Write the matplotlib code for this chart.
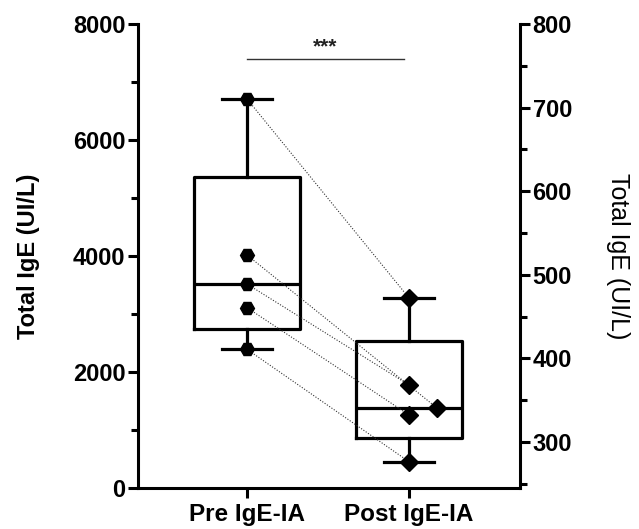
import matplotlib
matplotlib.use("Agg")
import matplotlib.pyplot as plt
import numpy as np
from matplotlib.ticker import MultipleLocator

plt.rcParams['font.family'] = ['Liberation Sans', 'DejaVu Sans']

categories = ["Pre IgE-IA", "Post IgE-IA"]
pre_values = [6707, 4017, 3517, 3109, 2391]
post_values = [3276, 1374, 1776, 1259, 453]
post_offsets = [0.0, 0.175, 0.0, 0.0, 0.0]
left_ticks = [0, 2000, 4000, 6000, 8000]
right_ticks = [300, 400, 500, 600, 700, 800]
sig_label = "***"


def box_stats(vals, label):
    v = np.sort(np.array(vals, dtype=float))
    n = len(v)
    med = np.median(v)
    lower = v[: n // 2]
    upper = v[(n + 1) // 2:]
    return dict(med=med, q1=np.median(lower), q3=np.median(upper),
                whislo=v.min(), whishi=v.max(), fliers=[], label=label)


fig = plt.figure(figsize=(6.39, 5.29), dpi=100)
ax = fig.add_axes([138 / 639, 1 - 488 / 529, (520 - 138) / 639, (488 - 24) / 529])

stats = [box_stats(pre_values, categories[0]), box_stats(post_values, categories[1])]
lw = 2.3
ax.bxp(stats, positions=[0, 1], widths=0.655, showfliers=False,
       boxprops=dict(color='black', linewidth=lw),
       whiskerprops=dict(color='black', linewidth=lw),
       capprops=dict(color='black', linewidth=lw),
       medianprops=dict(color='black', linewidth=lw),
       capwidths=0.31, manage_ticks=False)

for pre, post, off in zip(pre_values, post_values, post_offsets):
    ax.plot([0, 1 + off], [pre, post], linestyle=(0, (1, 1.5)), color='#333333',
            linewidth=0.8, zorder=3)
ax.plot(np.zeros(len(pre_values)), pre_values, linestyle='none', marker='H',
        markersize=10, color='black', zorder=4)
ax.plot(1 + np.array(post_offsets), post_values, linestyle='none', marker='D',
        markersize=9, color='black', zorder=4)

# significance bar
ax.plot([0.0, 0.97], [7400, 7400], color='#333333', linewidth=1.0)
ax.text(0.48, 7440, sig_label, ha='center', va='bottom', fontsize=15,
        fontweight='bold', color='#222222')

ax.set_xlim(-0.673, 1.685)
ax.set_ylim(0, 8000)
ax.set_yticks(left_ticks)
ax.yaxis.set_minor_locator(MultipleLocator(1000))
ax.set_xticks([0, 1])
ax.set_xticklabels(categories, fontsize=17.5, fontweight='bold')
ax.set_yticklabels([str(t) for t in left_ticks], fontsize=17, fontweight='bold')
ax.spines['top'].set_visible(False)
ax.spines['right'].set_visible(False)
for s in ['left', 'bottom']:
    ax.spines[s].set_linewidth(2.2)
ax.tick_params(axis='y', which='major', length=7, width=2.2, pad=2)
ax.tick_params(axis='y', which='minor', length=5, width=2.2)
ax.tick_params(axis='x', which='major', length=7, width=2.2, pad=4)
ax.set_ylabel("Total IgE (UI/L)", fontsize=17, fontweight='bold', labelpad=24)

ax2 = ax.twinx()
ax2.set_ylim(245, 800)
ax2.set_yticks(right_ticks)
ax2.yaxis.set_minor_locator(MultipleLocator(50))
ax2.set_yticklabels([str(t) for t in right_ticks], fontsize=17, fontweight='bold')
for s in ['top', 'left', 'bottom']:
    ax2.spines[s].set_visible(False)
ax2.spines['right'].set_linewidth(2.2)
ax2.tick_params(axis='y', which='major', length=7, width=2.2, pad=2)
ax2.tick_params(axis='y', which='minor', length=5, width=2.2)
ax2.set_ylabel("Total IgE (UI/L)", fontsize=18, rotation=270, labelpad=42)

fig.savefig("out.png", dpi=100)
